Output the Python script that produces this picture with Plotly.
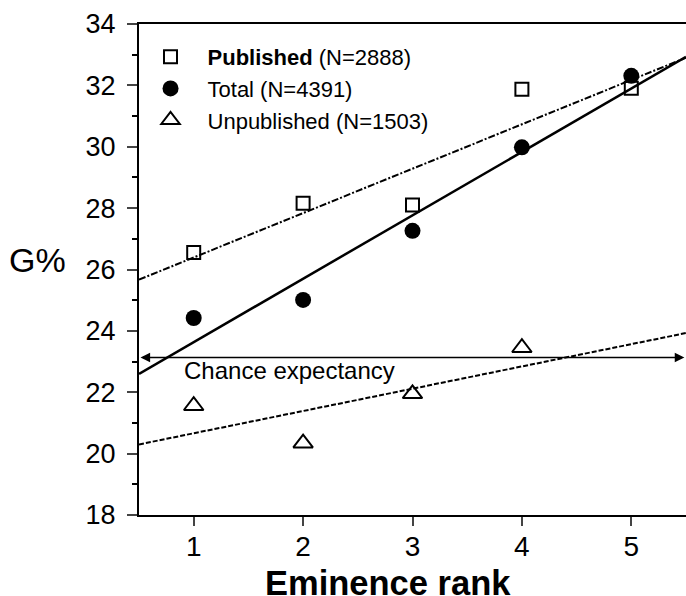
import plotly.graph_objects as go

# ---- data ----
ranks = [1, 2, 3, 4, 5]
published = [26.55, 28.16, 28.10, 31.87, 31.91]
total = [24.42, 25.01, 27.26, 29.98, 32.31]
unpub_ranks = [1, 2, 3, 4]
unpublished = [21.56, 20.34, 21.95, 23.45]

fit_x = [0.5, 5.5]
published_fit = [25.67, 32.90]
total_fit = [22.60, 32.93]
unpublished_fit = [20.30, 23.93]

chance_level = 23.13
chance_span = [0.5, 5.485]
chance_label = "Chance expectancy"

names = ["<b>Published</b> (N=2888)", "Total (N=4391)", "Unpublished (N=1503)"]
x_ticks = [1, 2, 3, 4, 5]
y_ticks = [18, 20, 22, 24, 26, 28, 30, 32, 34]

FONT = "Arial, 'Liberation Sans', Helvetica, sans-serif"

fig = go.Figure()

# regression lines
fig.add_trace(go.Scatter(x=fit_x, y=published_fit, mode="lines", showlegend=False,
                         line=dict(color="black", width=2, dash="7px,2px,2px,2px"), hoverinfo="skip"))
fig.add_trace(go.Scatter(x=fit_x, y=total_fit, mode="lines", showlegend=False,
                         line=dict(color="black", width=2.5), hoverinfo="skip"))
fig.add_trace(go.Scatter(x=fit_x, y=unpublished_fit, mode="lines", showlegend=False,
                         line=dict(color="black", width=2, dash="5px,2px"), hoverinfo="skip"))

# data points
fig.add_trace(go.Scatter(x=ranks, y=published, mode="markers", name=names[0],
                         marker=dict(symbol="square-open", size=13, color="black",
                                     line=dict(width=2, color="black"))))
fig.add_trace(go.Scatter(x=ranks, y=total, mode="markers", name=names[1],
                         marker=dict(symbol="circle", size=16, color="black")))
fig.add_trace(go.Scatter(x=unpub_ranks, y=unpublished, mode="markers", name=names[2],
                         marker=dict(symbol="triangle-up-open", size=17, color="black",
                                     line=dict(width=2, color="black"))))

# chance expectancy double arrow
fig.add_annotation(x=chance_span[1], y=chance_level, ax=chance_span[0], ay=chance_level,
                   xref="x", yref="y", axref="x", ayref="y",
                   text="", showarrow=True, arrowhead=2, startarrowhead=2,
                   arrowside="end+start", arrowwidth=1.6, arrowsize=1.2, startarrowsize=1.2,
                   arrowcolor="black")
fig.add_annotation(x=0.89, y=22.70, xref="x", yref="y",
                   text=chance_label, showarrow=False, xanchor="left", yanchor="middle",
                   font=dict(family=FONT, size=24, color="black"))

# y-axis label, horizontal
fig.add_annotation(x=-0.1856, y=26.3, xref="paper", yref="y", text="G%", showarrow=False,
                   xanchor="center", yanchor="middle",
                   font=dict(family=FONT, size=34, color="black"))

# x-axis title
fig.add_annotation(x=0.456, y=-0.1385, xref="paper", yref="paper", text="<b>Eminence rank</b>",
                   showarrow=False, xanchor="center", yanchor="middle",
                   font=dict(family=FONT, size=34.5, color="black"))

fig.update_layout(
    width=686, height=596,
    margin=dict(l=139, r=0, t=24, b=81),
    paper_bgcolor="white", plot_bgcolor="white",
    font=dict(family=FONT, color="black"),
    showlegend=True,
    legend=dict(x=-0.01, y=0.9756, xanchor="left", yanchor="top",
                bgcolor="rgba(0,0,0,0)", font=dict(family=FONT, size=22, color="black"),
                itemwidth=64, tracegroupgap=0),
)
fig.update_xaxes(range=[0.5, 5.5], tickvals=x_ticks, ticks="outside", ticklen=9, tickwidth=2,
                 showline=True, linewidth=2, linecolor="black", mirror=True,
                 showgrid=False, zeroline=False, tickfont=dict(size=28), ticklabelstandoff=-4)
fig.update_yaxes(range=[18, 34], tickvals=y_ticks, ticks="outside", ticklen=10, tickwidth=2,
                 showline=True, linewidth=2, linecolor="black",
                 showgrid=False, zeroline=False, tickfont=dict(size=27), ticklabelstandoff=6,
                 minor=dict(dtick=1, tick0=18, ticks="outside", ticklen=5, tickwidth=2, tickcolor="black"))

fig.write_html("out.html", config={"displayModeBar": False},
               post_script="document.body.style.margin='0';document.body.style.overflow='hidden';")
